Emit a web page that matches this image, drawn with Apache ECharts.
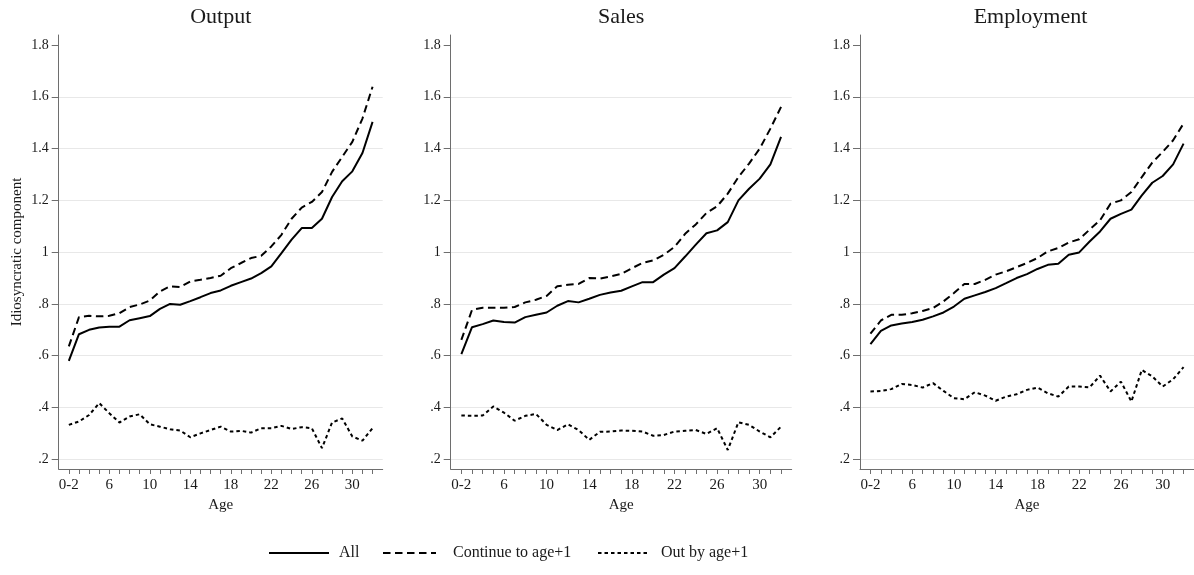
<!DOCTYPE html>
<html><head><meta charset="utf-8">
<script src="https://cdn.jsdelivr.net/npm/echarts@6/dist/echarts.min.js"></script>
<style>html,body{margin:0;padding:0;background:#fff}#c{width:1194px;height:575px}</style>
</head><body><div id="c"></div>
<script>
// ---- data ----
const ages = [2,3,4,5,6,7,8,9,10,11,12,13,14,15,16,17,18,19,20,21,22,23,24,25,26,27,28,29,30,31,32];
const panelTitles = ['Output','Sales','Employment'];
const seriesNames = ['All','Continue to age+1','Out by age+1'];
const xTickValues = [2,3,4,5,6,7,8,9,10,11,12,13,14,15,16,17,18,19,20,21,22,23,24,25,26,27,28,29,30,31,32];
const xLabelValues = [2,6,10,14,18,22,26,30];
const yTickValues = [0.2,0.4,0.6,0.8,1.0,1.2,1.4,1.6,1.8];

const outputAll = [0.58,0.683,0.70,0.709,0.712,0.712,0.737,0.745,0.753,0.781,0.80,0.797,0.811,0.826,0.842,0.852,0.87,0.884,0.898,0.919,0.945,0.996,1.048,1.093,1.093,1.129,1.213,1.274,1.312,1.383,1.503];
const outputCont = [0.636,0.749,0.754,0.752,0.754,0.764,0.788,0.798,0.813,0.848,0.868,0.865,0.887,0.893,0.90,0.909,0.938,0.958,0.977,0.986,1.022,1.067,1.129,1.172,1.194,1.232,1.31,1.368,1.426,1.516,1.639];
const outputOut = [0.333,0.346,0.371,0.417,0.378,0.342,0.365,0.374,0.335,0.326,0.316,0.311,0.285,0.30,0.313,0.326,0.307,0.31,0.303,0.32,0.32,0.329,0.317,0.324,0.32,0.243,0.342,0.358,0.288,0.272,0.32];

const salesAll = [0.606,0.71,0.722,0.736,0.73,0.728,0.749,0.758,0.767,0.793,0.811,0.806,0.82,0.835,0.844,0.851,0.868,0.884,0.884,0.913,0.938,0.983,1.029,1.073,1.084,1.116,1.2,1.245,1.284,1.339,1.445];
const salesCont = [0.661,0.777,0.785,0.785,0.785,0.788,0.806,0.816,0.831,0.868,0.874,0.877,0.90,0.898,0.906,0.916,0.938,0.958,0.968,0.99,1.02,1.071,1.107,1.151,1.177,1.226,1.29,1.342,1.40,1.477,1.561];
const salesOut = [0.369,0.368,0.369,0.404,0.38,0.349,0.368,0.375,0.333,0.313,0.335,0.313,0.275,0.306,0.307,0.311,0.31,0.307,0.291,0.294,0.307,0.31,0.313,0.298,0.32,0.236,0.343,0.333,0.307,0.285,0.326];

const emplAll = [0.645,0.696,0.717,0.724,0.73,0.739,0.752,0.767,0.79,0.82,0.833,0.846,0.861,0.88,0.90,0.915,0.935,0.951,0.955,0.99,0.999,1.041,1.08,1.129,1.148,1.164,1.219,1.268,1.294,1.339,1.419];
const emplCont = [0.685,0.736,0.758,0.758,0.764,0.773,0.784,0.81,0.842,0.877,0.877,0.893,0.913,0.926,0.942,0.958,0.977,1.003,1.016,1.037,1.05,1.087,1.123,1.187,1.20,1.232,1.29,1.346,1.387,1.432,1.497];
const emplOut = [0.462,0.464,0.471,0.491,0.487,0.477,0.494,0.464,0.436,0.432,0.459,0.446,0.426,0.442,0.451,0.468,0.477,0.455,0.442,0.481,0.481,0.478,0.523,0.462,0.50,0.423,0.545,0.52,0.481,0.509,0.556];

const panelData = [[outputAll,outputCont,outputOut],[salesAll,salesCont,salesOut],[emplAll,emplCont,emplOut]];

// ---- layout / style ----
const FONT = '"Liberation Serif","Times New Roman",serif';
const grids = [{left:58.7,width:324},{left:450.7,width:341},{left:860,width:341}];
const lineTypes = [{type:'solid'},{type:[7.5,4.5]},{type:[3.5,3]}];

const chart = echarts.init(document.getElementById('c'), null, {renderer:'canvas'});
const legendBase = {top:545,itemHeight:14,padding:0,itemStyle:{opacity:0,borderWidth:0}};
const option = {
  animation:false,
  backgroundColor:'#fff',
  grid: grids.map(g=>({left:g.left,width:g.width,top:35,height:434,containLabel:false})),
  xAxis: grids.map((g,i)=>({
    type:'value', gridIndex:i, min:1, max:33,
    name:'Age', nameLocation:'middle', nameGap:27,
    nameTextStyle:{fontFamily:FONT,fontSize:15,color:'#1a1a1a'},
    axisLine:{show:true,onZero:false,lineStyle:{color:'#6e6e6e',width:1}},
    axisTick:{show:true,length:5,lineStyle:{color:'#6e6e6e'},customValues:xTickValues},
    axisLabel:{fontFamily:FONT,fontSize:15,color:'#1a1a1a',margin:9,customValues:xLabelValues,
      formatter:v=> v===2 ? '0-2' : String(v)},
    splitLine:{show:false}
  })),
  yAxis: grids.map((g,i)=>({
    type:'value', gridIndex:i, min:0.1625, max:1.8386,
    name: i===0 ? 'Idiosyncratic component' : '',
    nameLocation:'middle', nameGap:34, nameRotate:90,
    nameTextStyle:{fontFamily:FONT,fontSize:15,color:'#1a1a1a'},
    axisLine:{show:true,onZero:false,lineStyle:{color:'#6e6e6e',width:1}},
    axisTick:{show:true,length:7,lineStyle:{color:'#6e6e6e'},customValues:yTickValues},
    axisLabel:{fontFamily:FONT,fontSize:14,color:'#1a1a1a',margin:10,customValues:yTickValues,
      formatter:v=>{let s=String(Math.round(v*10)/10); if(s.startsWith('0.')) s=s.slice(1); return s;}},
    splitLine:{show:true,lineStyle:{color:['#e8e8e8','#e8e8e8','#e8e8e8','#e8e8e8','#e8e8e8','#e8e8e8','#e8e8e8','#e8e8e8','rgba(0,0,0,0)'],width:1}}
  })),
  legend: [
    Object.assign({left:268,itemWidth:60,data:['All'],textStyle:{fontFamily:FONT,fontSize:16,color:'#1a1a1a',padding:[0,0,0,5]}},legendBase),
    Object.assign({left:382,itemWidth:53,data:['Continue to age+1'],textStyle:{fontFamily:FONT,fontSize:16,color:'#1a1a1a',padding:[0,0,0,12]}},legendBase),
    Object.assign({left:597,itemWidth:50,data:['Out by age+1'],textStyle:{fontFamily:FONT,fontSize:16,color:'#1a1a1a',padding:[0,0,0,8]}},legendBase)
  ],
  graphic: panelTitles.map((t,i)=>({
    type:'text', x: grids[i].left + grids[i].width/2, y:17,
    style:{text:t, font:'22px '+FONT, fill:'#1a1a1a', textAlign:'center', textVerticalAlign:'middle'}
  })),
  series: []
};
panelData.forEach((arrs,p)=>{
  arrs.forEach((vals,k)=>{
    option.series.push({
      type:'line', name:seriesNames[k], xAxisIndex:p, yAxisIndex:p,
      data: ages.map((a,j)=>[a, vals[j]]),
      symbol:'none', smooth:false,
      lineStyle:{color:'#000',width:2,type:lineTypes[k].type},
      itemStyle:{color:'#000'},
      emphasis:{disabled:true}
    });
  });
});
chart.setOption(option);
</script></body></html>
